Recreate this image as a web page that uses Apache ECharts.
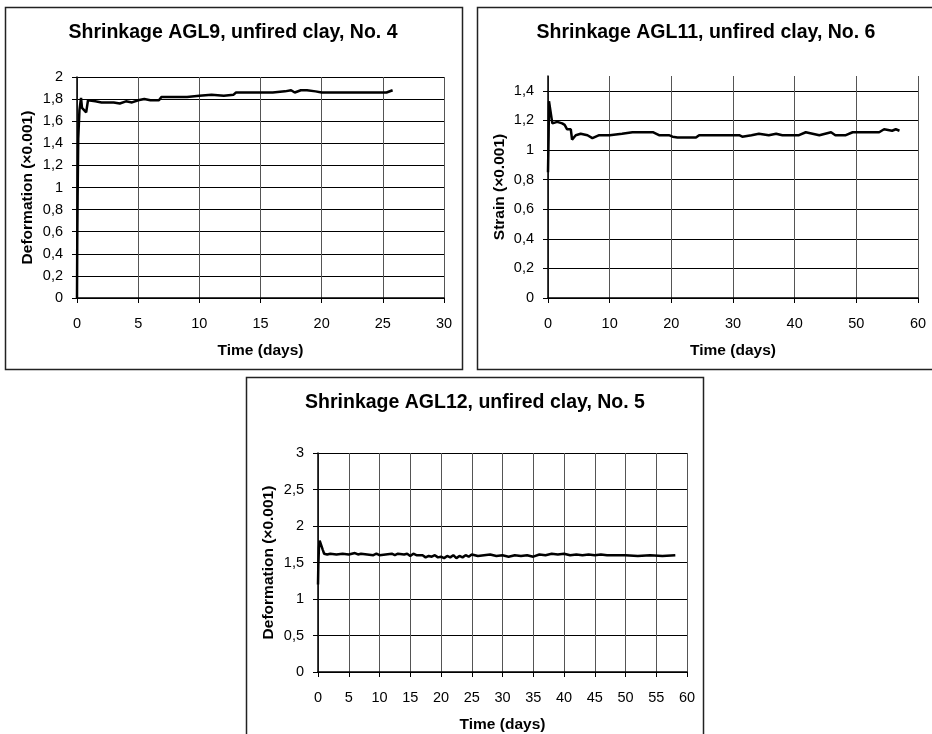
<!DOCTYPE html>
<html><head><meta charset="utf-8">
<script src="https://cdn.jsdelivr.net/npm/echarts@6/dist/echarts.min.js"></script>
<style>html,body{margin:0;padding:0;background:#fff}#c{width:932px;height:734px}</style>
</head><body><div id="c"></div>
<script>
// ---- Data ----
const titles = ['Shrinkage AGL9, unfired clay, No. 4','Shrinkage AGL11, unfired clay, No. 6','Shrinkage AGL12, unfired clay, No. 5'];
const yNames = ['Deformation (\u00d70.001)','Strain (\u00d70.001)','Deformation (\u00d70.001)'];
const xName = 'Time (days)';
const agl9 = [[0,0],[0.02,0.5],[0.05,0.91],[0.1,1.44],[0.2,1.7],[0.33,1.81],[0.41,1.72],[0.55,1.73],[0.75,1.68],[0.87,1.67],[0.9,1.79],[1.5,1.78],[2,1.77],[3,1.77],[3.5,1.76],[4,1.78],[4.5,1.77],[5,1.79],[5.5,1.8],[6,1.79],[6.7,1.79],[6.9,1.82],[8,1.82],[9,1.82],[10,1.83],[11,1.84],[12,1.83],[12.8,1.84],[13,1.86],[15,1.86],[16,1.86],[17,1.87],[17.5,1.88],[17.8,1.86],[18.3,1.88],[18.8,1.88],[19.5,1.87],[20,1.86],[21,1.86],[22,1.86],[23,1.86],[24,1.86],[25.3,1.86],[25.8,1.88]];
const agl11 = [[0,0.85],[0.1,1.1],[0.16,1.33],[0.35,1.32],[0.7,1.18],[1.5,1.19],[2.3,1.18],[2.7,1.17],[3.1,1.14],[3.7,1.14],[3.9,1.07],[4.5,1.1],[5.3,1.11],[6.4,1.1],[7.2,1.08],[8.3,1.1],[10,1.1],[12,1.11],[13.7,1.12],[17,1.12],[18,1.1],[19.6,1.1],[20.2,1.09],[21,1.085],[24,1.085],[24.5,1.1],[28,1.1],[31,1.1],[31.5,1.09],[33,1.1],[34.2,1.11],[35.8,1.1],[37,1.11],[38,1.1],[40.7,1.1],[41.8,1.12],[44,1.1],[45.9,1.12],[46.6,1.1],[48.3,1.1],[49.4,1.12],[53.7,1.12],[54.5,1.14],[55.8,1.13],[56.4,1.14],[57,1.13]];
const agl12 = [[0,1.2],[0.05,1.45],[0.15,1.7],[0.27,1.8],[0.5,1.79],[0.75,1.68],[1,1.62],[1.5,1.61],[2,1.62],[3,1.61],[4,1.62],[5,1.61],[6,1.63],[6.5,1.61],[7,1.62],[8,1.61],[9,1.6],[9.5,1.62],[10,1.6],[11,1.61],[12,1.62],[12.5,1.6],[13,1.62],[14,1.61],[14.5,1.62],[15,1.59],[15.5,1.62],[16,1.6],[17,1.6],[17.5,1.57],[18,1.59],[18.5,1.58],[19,1.6],[19.5,1.57],[20,1.58],[20.5,1.56],[21,1.59],[21.5,1.57],[22,1.6],[22.5,1.56],[23,1.59],[23.5,1.57],[24,1.6],[24.5,1.58],[25,1.61],[26,1.59],[27,1.6],[28,1.61],[29,1.59],[30,1.6],[31,1.58],[32,1.6],[33,1.59],[34,1.6],[35,1.58],[36,1.61],[37,1.6],[38,1.62],[39,1.61],[40,1.62],[41,1.6],[42,1.61],[43,1.6],[44,1.61],[45,1.6],[46,1.61],[47,1.6],[48,1.6],[50,1.6],[52,1.59],[54,1.6],[56,1.59],[58.1,1.6]];
const xMax = [30, 60, 60];
const xInterval = [5, 10, 5];
const yMax = [2, 1.5, 3];
const yInterval = [0.2, 0.2, 0.5];

// ---- Layout ----
const grids = [
  {left:77, top:77, width:367, height:221},
  {left:548, top:76, width:370, height:222},
  {left:318, top:453, width:369, height:221}
];
const titlePos = [[233,23],[706,23],[475,393]];
const boxes = [[5,7,457,362],[477,7,470,362],[246,377,457,370]];
const FONT = '"Liberation Sans", Arial, sans-serif';
const fmt = v => String(+v.toFixed(2)).replace('.', ',');

const option = {
  animation:false,
  backgroundColor:'#fff',
  graphic: boxes.map(b => ({type:'rect', shape:{x:b[0]+0.5,y:b[1]+0.5,width:b[2],height:b[3]}, style:{fill:'none',stroke:'#222',lineWidth:1.5}, z:-1})),
  title: titles.map((t,i) => ({text:t, left:titlePos[i][0], top:titlePos[i][1], textAlign:'center', padding:0, textStyle:{fontFamily:FONT,fontWeight:'bold',fontSize:19.5,color:'#000'}})),
  grid: grids.map(g => Object.assign({containLabel:false}, g)),
  xAxis: grids.map((g,i) => ({
    type:'value', gridIndex:i, min:0, max:xMax[i], interval:xInterval[i],
    name:xName, nameLocation:'middle', nameGap:45,
    nameTextStyle:{fontFamily:FONT,fontWeight:'bold',fontSize:15.5,color:'#000'},
    axisLine:{show:true,onZero:false,lineStyle:{color:'#000',width:1.5}},
    axisTick:{show:true,inside:false,length:5,lineStyle:{color:'#000'}},
    axisLabel:{fontFamily:FONT,fontSize:14.5,color:'#000',margin:18},
    splitLine:{show:true,lineStyle:{color:'#555',width:1}}
  })),
  yAxis: grids.map((g,i) => ({
    type:'value', gridIndex:i, min:0, max:yMax[i], interval:yInterval[i],
    name:yNames[i], nameLocation:'middle', nameGap:(i===1?40:41),
    nameTextStyle:{fontFamily:FONT,fontWeight:'bold',fontSize:15.5,color:'#000'},
    axisLine:{show:true,onZero:false,lineStyle:{color:'#000',width:1.5}},
    axisTick:{show:true,inside:false,length:5,lineStyle:{color:'#000'}},
    axisLabel:{fontFamily:FONT,fontSize:14.5,color:'#000',margin:14,formatter:fmt,showMaxLabel:(i!==1)},
    splitLine:{show:true,showMaxLine:(i!==1),lineStyle:{color:'#000',width:1}}
  })),
  series: [agl9, agl11, agl12].map((d,i) => ({
    type:'line', xAxisIndex:i, yAxisIndex:i, data:d, showSymbol:false, symbol:'none',
    lineStyle:{color:'#000',width:2.5}, clip:true
  }))
};
const chart = echarts.init(document.getElementById('c'), null, {renderer:'canvas'});
chart.setOption(option);
</script></body></html>
